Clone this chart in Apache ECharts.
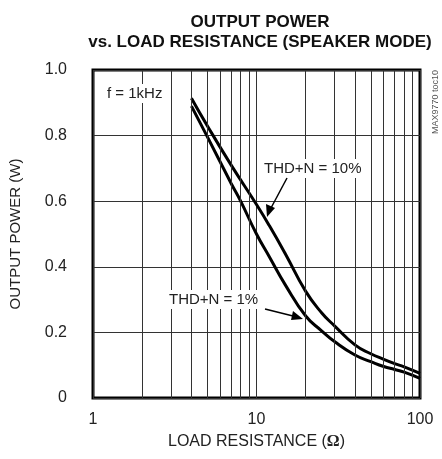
<!DOCTYPE html>
<html>
<head>
<meta charset="utf-8">
<script src="https://cdn.jsdelivr.net/npm/echarts@6/dist/echarts.min.js"></script>
<style>
  html, body { margin: 0; padding: 0; background: #fff; }
  #chart { width: 442px; height: 459px; }
</style>
</head>
<body>
<div id="chart"></div>
<script>
// THD+N = 10%
const r10 = [4, 5, 7, 10, 12, 15, 20, 25, 30, 40, 50, 60, 70, 80, 100]
const p10 = [0.914, 0.83, 0.71, 0.59, 0.525, 0.44, 0.325, 0.26, 0.22, 0.162, 0.135, 0.118, 0.105, 0.095, 0.075]
// THD+N = 1%
const r1 = [4, 5, 7, 8, 10, 12, 15, 20, 25, 30, 40, 50, 60, 70, 80, 100]
const p1 = [0.89, 0.797, 0.654, 0.6, 0.5, 0.43, 0.345, 0.25, 0.205, 0.172, 0.131, 0.111, 0.096, 0.087, 0.079, 0.06]
// minor vertical grid lines on the log axis
const minorX = [2, 3, 4, 5, 6, 7, 8, 9, 20, 30, 40, 50, 60, 70, 80, 90]

const font = "'Liberation Sans Narrow', 'Arial Narrow', 'Liberation Sans', sans-serif"

let chart = echarts.init(document.getElementById('chart'))

const option = {
  animation: false,
  backgroundColor: '#fff',
  title: {
    text: 'OUTPUT POWER\nvs. LOAD RESISTANCE (SPEAKER MODE)',
    left: 255,
    top: 7,
    textAlign: 'center',
    textStyle: {
      fontFamily: font,
      fontSize: 17,
      fontWeight: 'bold',
      color: '#111',
      lineHeight: 20
    }
  },
  grid: {
    left: 92,
    right: 22,
    top: 70,
    bottom: 61,
    show: true,
    borderColor: '#000',
    borderWidth: 3,
    backgroundColor: 'transparent'
  },
  xAxis: {
    type: 'log',
    logBase: 10,
    min: 1,
    max: 100,
    name: 'LOAD RESISTANCE ({b|Ω})',
    nameLocation: 'middle',
    nameGap: 36,
    nameTextStyle: {
      fontFamily: font,
      fontSize: 16,
      color: '#222',
      rich: {
        b: { fontFamily: 'Liberation Serif', fontWeight: 'bold', fontSize: 16, color: '#222' }
      }
    },
    axisLine: { show: false },
    axisTick: { show: false },
    axisLabel: {
      margin: 14,
      fontFamily: font,
      fontSize: 16,
      color: '#222'
    },
    splitLine: { show: true, lineStyle: { color: '#333', width: 1 } }
  },
  yAxis: {
    type: 'value',
    min: 0,
    max: 1,
    interval: 0.2,
    name: 'OUTPUT POWER (W)',
    nameLocation: 'middle',
    nameGap: 70,
    nameTextStyle: {
      fontFamily: font,
      fontSize: 15,
      color: '#222'
    },
    axisLine: { show: false },
    axisTick: { show: false },
    axisLabel: {
      margin: 26,
      fontFamily: font,
      fontSize: 16,
      color: '#222',
      formatter: v => (v === 0 ? '0' : v.toFixed(1))
    },
    splitLine: { show: true, lineStyle: { color: '#333', width: 1 } }
  },
  series: [
    {
      name: 'grid',
      type: 'line',
      data: [],
      z: 1,
      markLine: {
        silent: true,
        symbol: ['none', 'none'],
        label: { show: false },
        lineStyle: { color: '#333', width: 1, type: 'solid' },
        data: minorX.map(v => ({ xAxis: v }))
      }
    },
    {
      name: 'THD+N = 10%',
      type: 'line',
      z: 3,
      smooth: 0.5,
      showSymbol: false,
      lineStyle: { color: '#000', width: 3 },
      data: r10.map((r, i) => [r, p10[i]])
    },
    {
      name: 'THD+N = 1%',
      type: 'line',
      z: 3,
      smooth: 0.5,
      showSymbol: false,
      lineStyle: { color: '#000', width: 3 },
      data: r1.map((r, i) => [r, p1[i]])
    }
  ],
  graphic: [
    {
      type: 'text', left: 104, top: 84, z: 10,
      style: { text: 'f = 1kHz', font: '15px ' + font, fill: '#222', backgroundColor: '#fff', padding: [2, 3] }
    },
    {
      type: 'text', left: 261, top: 159, z: 10,
      style: { text: 'THD+N = 10%', font: '15px ' + font, fill: '#222', backgroundColor: '#fff', padding: [2, 3] }
    },
    {
      type: 'text', left: 166, top: 290, z: 10,
      style: { text: 'THD+N = 1%', font: '15px ' + font, fill: '#222', backgroundColor: '#fff', padding: [2, 3] }
    },
    {
      type: 'text', x: 436, y: 70, rotation: Math.PI / 2, z: 10,
      style: { text: 'MAX9770 toc10', font: '9px ' + font, fill: '#555', align: 'right', verticalAlign: 'middle' }
    },
    // arrows
    { type: 'line', z: 10, shape: { x1: 287, y1: 178, x2: 271, y2: 208 }, style: { stroke: '#000', lineWidth: 1.5 } },
    { type: 'polygon', z: 10, shape: { points: [[267, 217], [266, 204], [275, 208]] }, style: { fill: '#000' } },
    { type: 'line', z: 10, shape: { x1: 265, y1: 309, x2: 293, y2: 316 }, style: { stroke: '#000', lineWidth: 1.5 } },
    { type: 'polygon', z: 10, shape: { points: [[303, 319], [291, 320], [293, 311]] }, style: { fill: '#000' } }
  ]
}

chart.setOption(option)
</script>
</body>
</html>
